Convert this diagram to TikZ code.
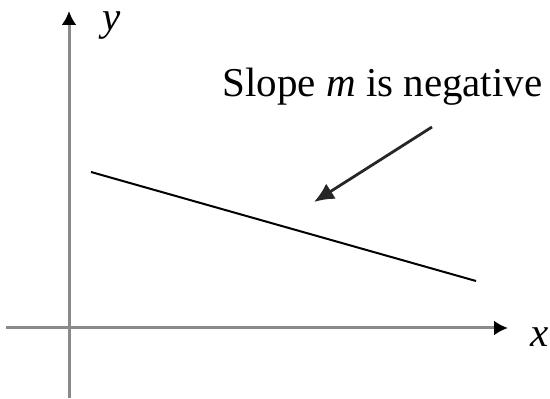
\documentclass[tikz,border=0pt]{standalone}
\usepackage{fontspec}
\setmainfont{Liberation Serif}
\usetikzlibrary{arrows.meta,positioning}
\definecolor{AxisGray}{HTML}{8A8A8A}

\begin{document}
\begin{tikzpicture}[
  x=0.5pt,y=-0.5pt,
  axis/.style={draw=AxisGray,line width=1.5pt,-{Latex[length=7pt,width=7.5pt,color=black]}},
  slope/.style={line width=1pt},
  pointer/.style={line width=1.4pt,draw=black!85,-{Latex[length=10pt,width=9pt]}},
  lbl/.style={inner sep=0pt,font=\fontsize{20.5}{24}\selectfont}
]
  \useasboundingbox (0,0) rectangle (550,399);

  % axes
  \coordinate (ybot) at (69,398);
  \coordinate (ytop) at (69,11);
  \coordinate (xleft) at (6,328);
  \coordinate (xright) at (508,328);
  \draw[axis] (xleft) -- (xright);
  \draw[axis] (ybot) -- (ytop);
  \node[lbl] (ylab) at (112,26) {\textit{y}};
  \node[lbl] (xlab) at (540,337) {\textit{x}};

  % line with negative slope
  \coordinate (p) at (91,172);
  \coordinate (q) at (476,281);
  \draw[slope] (p) -- (q);

  % label and pointer
  \node[lbl,anchor=base] (note) at (382.5,97) {Slope \textit{m} is negative};
  \coordinate (tail) at (432,127);
  \coordinate (tip) at (314,202);
  \draw[pointer] (tail) -- (tip);
\end{tikzpicture}
\end{document}
